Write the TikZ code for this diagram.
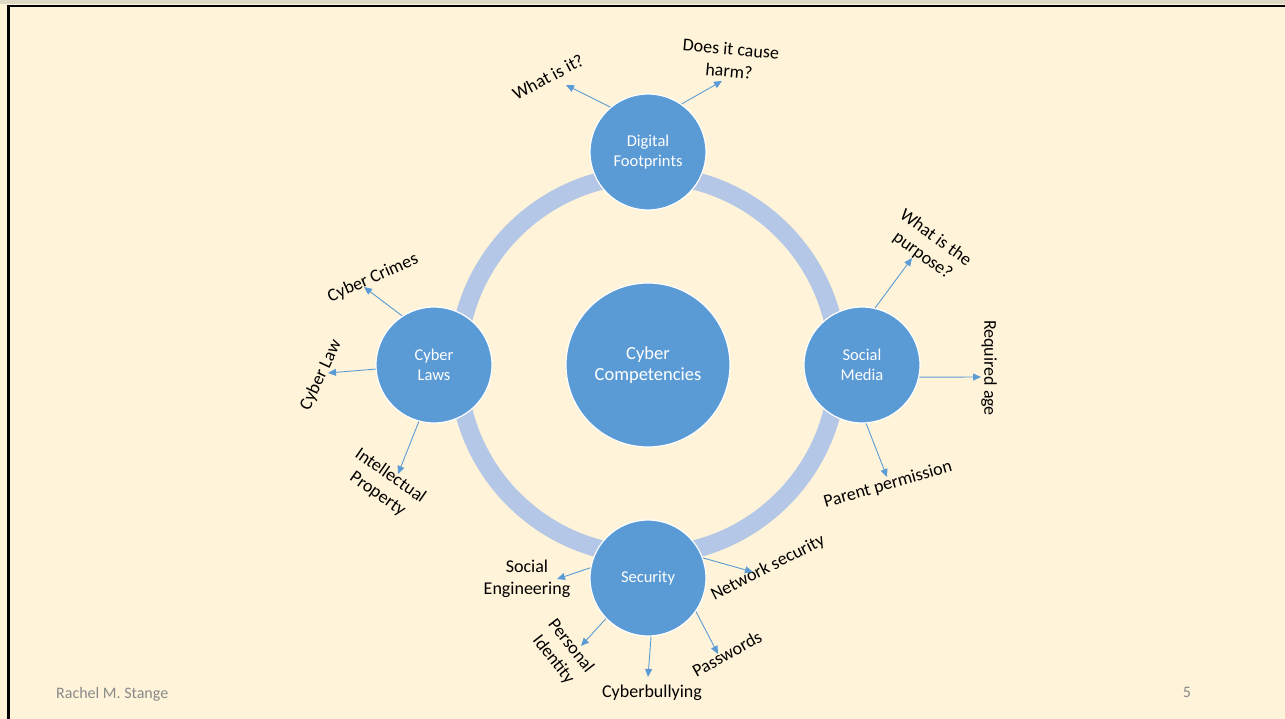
\documentclass[tikz,border=0pt]{standalone}
\usepackage{fontspec}
\setmainfont{Carlito}
\usepackage{tikz}
\usetikzlibrary{arrows.meta}

\definecolor{slidebg}{RGB}{255,244,217}
\definecolor{topicblue}{RGB}{91,155,213}
\definecolor{ringblue}{RGB}{180,199,231}
\definecolor{footgrey}{RGB}{137,137,137}

\begin{document}
\begin{tikzpicture}[x=1pt,y=1pt,yscale=-1,xscale=1,
		topic/.style={circle, fill=topicblue, draw=white, line width=1.2pt, minimum size=116pt, inner sep=0pt, text=white, align=center, font=\fontsize{16.5}{19.5}\selectfont},
		hub/.style={topic, minimum size=164pt, font=\fontsize{18.5}{21.5}\selectfont},
		leaf/.style={align=center, inner sep=0.75pt, font=\fontsize{18}{22}\selectfont},
		spoke/.style={draw=topicblue, line width=0.9pt, -{Triangle[length=8pt,width=7pt]}}]
		%set diagram to slide size 1285 x 719
		\useasboundingbox (0,0) rectangle (1285,719);
		\fill [slidebg] (0,0) rectangle (1285,719);
		\fill [color={rgb, 255:red, 222; green, 216; blue, 196 }] (0,0) rectangle (1285,4.5);
		\draw [line width=2.6] (1285,6) -- (8.7,6) -- (8.7,719);
		
		% Ring
		\coordinate (mid) at (648,365);
		\draw [ringblue, line width=18] (mid) circle (190);
		
		% Circles
		\node [hub] (comp) at (mid) {Cyber\\Competencies};
		\node [topic] (foot) at (648,152) {Digital\\Footprints};
		\node [topic] (media) at (862,365) {Social\\Media};
		\node [topic] (laws) at (434,365) {Cyber\\Laws};
		\node [topic] (sec) at (648,578) {Security};
		
		% Text Node
		\node [leaf, rotate=28] (whatis) at (548,77) {What is it?};
		\node [leaf, rotate=-5] (harm) at (730,60) {Does it cause\\harm?};
		\node [leaf, rotate=-36] (purpose) at (929,247) {What is the\\purpose?};
		\node [leaf, rotate=-90] (age) at (989,368) {Required age};
		\node [leaf, rotate=16] (parent) at (888,485) {Parent permission};
		\node [leaf, rotate=24] (crimes) at (373,278) {Cyber Crimes};
		\node [leaf, rotate=65] (law) at (321,375) {Cyber Law};
		\node [leaf, rotate=-35] (prop) at (384,485) {Intellectual\\Property};
		\node [leaf] (soceng) at (527,579) {Social\\Engineering};
		\node [leaf, rotate=27] (network) at (768,568) {Network security};
		\node [leaf, rotate=-52] (ident) at (562,653) {Personal\\Identity};
		\node [leaf] (bully) at (652,693) {Cyberbullying};
		\node [leaf, rotate=29] (pass) at (727,654) {Passwords};
		
		% Arrow ends
		\coordinate (whatis-e) at (566,85);
		\coordinate (harm-e) at (722,81);
		\coordinate (purpose-e) at (912,258);
		\coordinate (age-e) at (981,377);
		\coordinate (parent-e) at (887,477);
		\coordinate (crimes-e) at (364,287);
		\coordinate (law-e) at (328,373);
		\coordinate (prop-e) at (398,474);
		\coordinate (soceng-e) at (557,579);
		\coordinate (network-e) at (753,572);
		\coordinate (ident-e) at (581,646);
		\coordinate (bully-e) at (648,677);
		\coordinate (pass-e) at (718,654);
		
		% Connection
		\draw [spoke] (foot.130) -- (whatis-e);
		\draw [spoke] (foot.55) -- (harm-e);
		\draw [spoke] (media.77) -- (purpose-e);
		\draw [spoke] (media.-12) -- (age-e);
		\draw [spoke] (media.-86) -- (parent-e);
		\draw [spoke] (laws.123) -- (crimes-e);
		\draw [spoke] (laws.184) -- (law-e);
		\draw [spoke] (laws.255) -- (prop-e);
		\draw [spoke] (sec.170) -- (soceng-e);
		\draw [spoke] (sec.20) -- (network-e);
		\draw [spoke] (sec.224) -- (ident-e);
		\draw [spoke] (sec.273) -- (bully-e);
		\draw [spoke] (sec.325) -- (pass-e);
		
		% Footer
		\node [text=footgrey, inner sep=0pt, anchor=base west, font=\fontsize{16}{19}\selectfont] (author) at (56,698) {Rachel M. Stange};
		\node [text=footgrey, inner sep=0pt, anchor=base, font=\fontsize{16}{19}\selectfont] (page) at (1187,697) {5};
	\end{tikzpicture}
\end{document}
